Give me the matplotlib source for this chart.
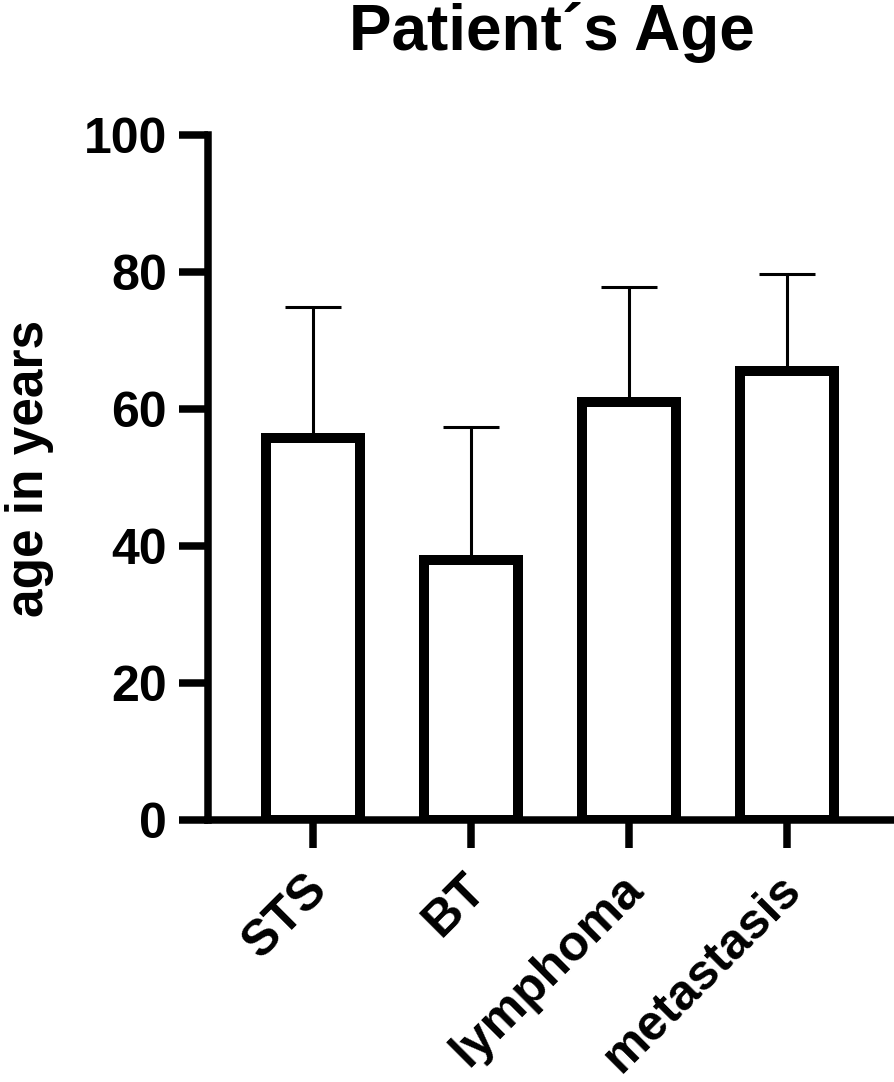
import matplotlib
matplotlib.use("Agg")
import matplotlib.pyplot as plt
import matplotlib.transforms as mtransforms
import numpy as np

categories = ["STS", "BT", "lymphoma", "metastasis"]
means = [55.8, 37.9, 61.0, 65.6]
upper = [74.9, 57.4, 77.9, 79.7]
yticks = [0, 20, 40, 60, 80, 100]

plt.rcParams['font.family'] = ['Liberation Sans', 'DejaVu Sans']
plt.rcParams['font.weight'] = 'bold'

fig = plt.figure(figsize=(8.94, 10.82), dpi=100)
ax = fig.add_axes([0.2332, 0.2426, 0.7668, 0.6322])

x = np.arange(len(categories))
err = np.array(upper) - np.array(means)
ax.errorbar(x, means, yerr=[np.zeros(len(x)), err], fmt='none', ecolor='black',
            elinewidth=2.2, capsize=20, capthick=2.2, zorder=1)
ax.bar(x, means, width=0.60, facecolor='white', edgecolor='black', linewidth=7.2, zorder=2)

ax.set_xlim(-0.661, 3.677)
ax.set_ylim(0, 100)
ax.set_yticks(yticks)
ax.set_xticks(x)
ax.set_xticklabels(categories, rotation=45, ha='right', va='top', rotation_mode='anchor')

for s in ['top', 'right']:
    ax.spines[s].set_visible(False)
for s in ['left', 'bottom']:
    ax.spines[s].set_linewidth(5.4)
ax.spines['left'].set_capstyle('projecting')

ax.tick_params(axis='y', length=21, width=5.4, labelsize=36, pad=9)
ax.tick_params(axis='x', length=20.5, width=5.4, labelsize=36, pad=12)
offset = mtransforms.ScaledTranslation(-0.09, -0.01, fig.dpi_scale_trans)
for lab in ax.get_xticklabels():
    lab.set_fontweight('bold')
    lab.set_transform(lab.get_transform() + offset)
for lab in ax.get_yticklabels():
    lab.set_fontweight('bold')

ax.set_ylabel("age in years", fontsize=37, fontweight='bold')
ax.yaxis.set_label_coords(-0.226, 0.513)
fig.suptitle("Patient\u00b4s Age", fontsize=46, fontweight='bold', x=0.617, y=0.998, va='top')

fig.savefig("out.png", dpi=100)
